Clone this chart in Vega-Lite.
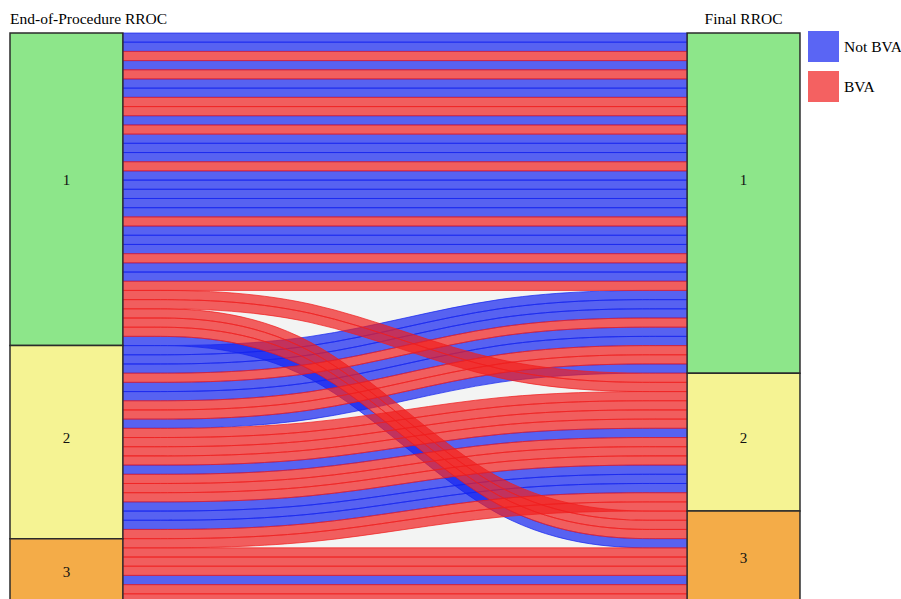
{
  "$schema": "https://vega.github.io/schema/vega-lite/v6.json",
  "width": 901,
  "height": 603,
  "padding": 0,
  "autosize": {"type": "none"},
  "background": "white",
  "config": {"view": {"stroke": null}},
  "datasets": {
    "rib": [
      {"id":0,"c":"Not BVA","x":1,"t":0,"b":1},{"id":0,"c":"Not BVA","x":6,"t":0,"b":1},
      {"id":1,"c":"Not BVA","x":1,"t":1,"b":2},{"id":1,"c":"Not BVA","x":6,"t":1,"b":2},
      {"id":3,"c":"Not BVA","x":1,"t":3,"b":4},{"id":3,"c":"Not BVA","x":6,"t":3,"b":4},
      {"id":5,"c":"Not BVA","x":1,"t":5,"b":6},{"id":5,"c":"Not BVA","x":6,"t":5,"b":6},
      {"id":6,"c":"Not BVA","x":1,"t":6,"b":7},{"id":6,"c":"Not BVA","x":6,"t":6,"b":7},
      {"id":9,"c":"Not BVA","x":1,"t":9,"b":10},{"id":9,"c":"Not BVA","x":6,"t":9,"b":10},
      {"id":11,"c":"Not BVA","x":1,"t":11,"b":12},{"id":11,"c":"Not BVA","x":6,"t":11,"b":12},
      {"id":12,"c":"Not BVA","x":1,"t":12,"b":13},{"id":12,"c":"Not BVA","x":6,"t":12,"b":13},
      {"id":13,"c":"Not BVA","x":1,"t":13,"b":14},{"id":13,"c":"Not BVA","x":6,"t":13,"b":14},
      {"id":15,"c":"Not BVA","x":1,"t":15,"b":16},{"id":15,"c":"Not BVA","x":6,"t":15,"b":16},
      {"id":16,"c":"Not BVA","x":1,"t":16,"b":17},{"id":16,"c":"Not BVA","x":6,"t":16,"b":17},
      {"id":17,"c":"Not BVA","x":1,"t":17,"b":18},{"id":17,"c":"Not BVA","x":6,"t":17,"b":18},
      {"id":18,"c":"Not BVA","x":1,"t":18,"b":19},{"id":18,"c":"Not BVA","x":6,"t":18,"b":19},
      {"id":19,"c":"Not BVA","x":1,"t":19,"b":20},{"id":19,"c":"Not BVA","x":6,"t":19,"b":20},
      {"id":21,"c":"Not BVA","x":1,"t":21,"b":22},{"id":21,"c":"Not BVA","x":6,"t":21,"b":22},
      {"id":22,"c":"Not BVA","x":1,"t":22,"b":23},{"id":22,"c":"Not BVA","x":6,"t":22,"b":23},
      {"id":23,"c":"Not BVA","x":1,"t":23,"b":24},{"id":23,"c":"Not BVA","x":6,"t":23,"b":24},
      {"id":25,"c":"Not BVA","x":1,"t":25,"b":26},{"id":25,"c":"Not BVA","x":6,"t":25,"b":26},
      {"id":26,"c":"Not BVA","x":1,"t":26,"b":27},{"id":26,"c":"Not BVA","x":6,"t":26,"b":27},
      {"id":59,"c":"Not BVA","x":1,"t":59,"b":60},{"id":59,"c":"Not BVA","x":6,"t":59,"b":60},
      {"id":33,"c":"Not BVA","x":1,"t":33,"b":34},{"id":33,"c":"Not BVA","x":2.6667,"t":33,"b":34},{"id":33,"c":"Not BVA","x":4.3333,"t":55,"b":56},{"id":33,"c":"Not BVA","x":6,"t":55,"b":56},
      {"id":34,"c":"Not BVA","x":1,"t":34,"b":35},{"id":34,"c":"Not BVA","x":2.6667,"t":34,"b":35},{"id":34,"c":"Not BVA","x":4.3333,"t":28,"b":29},{"id":34,"c":"Not BVA","x":6,"t":28,"b":29},
      {"id":35,"c":"Not BVA","x":1,"t":35,"b":36},{"id":35,"c":"Not BVA","x":2.6667,"t":35,"b":36},{"id":35,"c":"Not BVA","x":4.3333,"t":29,"b":30},{"id":35,"c":"Not BVA","x":6,"t":29,"b":30},
      {"id":36,"c":"Not BVA","x":1,"t":36,"b":37},{"id":36,"c":"Not BVA","x":2.6667,"t":36,"b":37},{"id":36,"c":"Not BVA","x":4.3333,"t":30,"b":31},{"id":36,"c":"Not BVA","x":6,"t":30,"b":31},
      {"id":38,"c":"Not BVA","x":1,"t":38,"b":39},{"id":38,"c":"Not BVA","x":2.6667,"t":38,"b":39},{"id":38,"c":"Not BVA","x":4.3333,"t":32,"b":33},{"id":38,"c":"Not BVA","x":6,"t":32,"b":33},
      {"id":39,"c":"Not BVA","x":1,"t":39,"b":40},{"id":39,"c":"Not BVA","x":2.6667,"t":39,"b":40},{"id":39,"c":"Not BVA","x":4.3333,"t":33,"b":34},{"id":39,"c":"Not BVA","x":6,"t":33,"b":34},
      {"id":42,"c":"Not BVA","x":1,"t":42,"b":43},{"id":42,"c":"Not BVA","x":2.6667,"t":42,"b":43},{"id":42,"c":"Not BVA","x":4.3333,"t":36,"b":37},{"id":42,"c":"Not BVA","x":6,"t":36,"b":37},
      {"id":47,"c":"Not BVA","x":1,"t":47,"b":48},{"id":47,"c":"Not BVA","x":2.6667,"t":47,"b":48},{"id":47,"c":"Not BVA","x":4.3333,"t":43,"b":44},{"id":47,"c":"Not BVA","x":6,"t":43,"b":44},
      {"id":51,"c":"Not BVA","x":1,"t":51,"b":52},{"id":51,"c":"Not BVA","x":2.6667,"t":51,"b":52},{"id":51,"c":"Not BVA","x":4.3333,"t":47,"b":48},{"id":51,"c":"Not BVA","x":6,"t":47,"b":48},
      {"id":52,"c":"Not BVA","x":1,"t":52,"b":53},{"id":52,"c":"Not BVA","x":2.6667,"t":52,"b":53},{"id":52,"c":"Not BVA","x":4.3333,"t":48,"b":49},{"id":52,"c":"Not BVA","x":6,"t":48,"b":49},
      {"id":53,"c":"Not BVA","x":1,"t":53,"b":54},{"id":53,"c":"Not BVA","x":2.6667,"t":53,"b":54},{"id":53,"c":"Not BVA","x":4.3333,"t":49,"b":50},{"id":53,"c":"Not BVA","x":6,"t":49,"b":50},
      {"id":2,"c":"BVA","x":1,"t":2,"b":3},{"id":2,"c":"BVA","x":6,"t":2,"b":3},
      {"id":4,"c":"BVA","x":1,"t":4,"b":5},{"id":4,"c":"BVA","x":6,"t":4,"b":5},
      {"id":7,"c":"BVA","x":1,"t":7,"b":8},{"id":7,"c":"BVA","x":6,"t":7,"b":8},
      {"id":8,"c":"BVA","x":1,"t":8,"b":9},{"id":8,"c":"BVA","x":6,"t":8,"b":9},
      {"id":10,"c":"BVA","x":1,"t":10,"b":11},{"id":10,"c":"BVA","x":6,"t":10,"b":11},
      {"id":14,"c":"BVA","x":1,"t":14,"b":15},{"id":14,"c":"BVA","x":6,"t":14,"b":15},
      {"id":20,"c":"BVA","x":1,"t":20,"b":21},{"id":20,"c":"BVA","x":6,"t":20,"b":21},
      {"id":24,"c":"BVA","x":1,"t":24,"b":25},{"id":24,"c":"BVA","x":6,"t":24,"b":25},
      {"id":27,"c":"BVA","x":1,"t":27,"b":28},{"id":27,"c":"BVA","x":6,"t":27,"b":28},
      {"id":56,"c":"BVA","x":1,"t":56,"b":57},{"id":56,"c":"BVA","x":6,"t":56,"b":57},
      {"id":57,"c":"BVA","x":1,"t":57,"b":58},{"id":57,"c":"BVA","x":6,"t":57,"b":58},
      {"id":58,"c":"BVA","x":1,"t":58,"b":59},{"id":58,"c":"BVA","x":6,"t":58,"b":59},
      {"id":60,"c":"BVA","x":1,"t":60,"b":61},{"id":60,"c":"BVA","x":6,"t":60,"b":61},
      {"id":61,"c":"BVA","x":1,"t":61,"b":62},{"id":61,"c":"BVA","x":6,"t":61,"b":62},
      {"id":28,"c":"BVA","x":1,"t":28,"b":29},{"id":28,"c":"BVA","x":2.6667,"t":28,"b":29},{"id":28,"c":"BVA","x":4.3333,"t":37,"b":38},{"id":28,"c":"BVA","x":6,"t":37,"b":38},
      {"id":29,"c":"BVA","x":1,"t":29,"b":30},{"id":29,"c":"BVA","x":2.6667,"t":29,"b":30},{"id":29,"c":"BVA","x":4.3333,"t":38,"b":39},{"id":29,"c":"BVA","x":6,"t":38,"b":39},
      {"id":30,"c":"BVA","x":1,"t":30,"b":31},{"id":30,"c":"BVA","x":2.6667,"t":30,"b":31},{"id":30,"c":"BVA","x":4.3333,"t":52,"b":53},{"id":30,"c":"BVA","x":6,"t":52,"b":53},
      {"id":31,"c":"BVA","x":1,"t":31,"b":32},{"id":31,"c":"BVA","x":2.6667,"t":31,"b":32},{"id":31,"c":"BVA","x":4.3333,"t":53,"b":54},{"id":31,"c":"BVA","x":6,"t":53,"b":54},
      {"id":32,"c":"BVA","x":1,"t":32,"b":33},{"id":32,"c":"BVA","x":2.6667,"t":32,"b":33},{"id":32,"c":"BVA","x":4.3333,"t":54,"b":55},{"id":32,"c":"BVA","x":6,"t":54,"b":55},
      {"id":37,"c":"BVA","x":1,"t":37,"b":38},{"id":37,"c":"BVA","x":2.6667,"t":37,"b":38},{"id":37,"c":"BVA","x":4.3333,"t":31,"b":32},{"id":37,"c":"BVA","x":6,"t":31,"b":32},
      {"id":40,"c":"BVA","x":1,"t":40,"b":41},{"id":40,"c":"BVA","x":2.6667,"t":40,"b":41},{"id":40,"c":"BVA","x":4.3333,"t":34,"b":35},{"id":40,"c":"BVA","x":6,"t":34,"b":35},
      {"id":41,"c":"BVA","x":1,"t":41,"b":42},{"id":41,"c":"BVA","x":2.6667,"t":41,"b":42},{"id":41,"c":"BVA","x":4.3333,"t":35,"b":36},{"id":41,"c":"BVA","x":6,"t":35,"b":36},
      {"id":43,"c":"BVA","x":1,"t":43,"b":44},{"id":43,"c":"BVA","x":2.6667,"t":43,"b":44},{"id":43,"c":"BVA","x":4.3333,"t":39,"b":40},{"id":43,"c":"BVA","x":6,"t":39,"b":40},
      {"id":44,"c":"BVA","x":1,"t":44,"b":45},{"id":44,"c":"BVA","x":2.6667,"t":44,"b":45},{"id":44,"c":"BVA","x":4.3333,"t":40,"b":41},{"id":44,"c":"BVA","x":6,"t":40,"b":41},
      {"id":45,"c":"BVA","x":1,"t":45,"b":46},{"id":45,"c":"BVA","x":2.6667,"t":45,"b":46},{"id":45,"c":"BVA","x":4.3333,"t":41,"b":42},{"id":45,"c":"BVA","x":6,"t":41,"b":42},
      {"id":46,"c":"BVA","x":1,"t":46,"b":47},{"id":46,"c":"BVA","x":2.6667,"t":46,"b":47},{"id":46,"c":"BVA","x":4.3333,"t":42,"b":43},{"id":46,"c":"BVA","x":6,"t":42,"b":43},
      {"id":48,"c":"BVA","x":1,"t":48,"b":49},{"id":48,"c":"BVA","x":2.6667,"t":48,"b":49},{"id":48,"c":"BVA","x":4.3333,"t":44,"b":45},{"id":48,"c":"BVA","x":6,"t":44,"b":45},
      {"id":49,"c":"BVA","x":1,"t":49,"b":50},{"id":49,"c":"BVA","x":2.6667,"t":49,"b":50},{"id":49,"c":"BVA","x":4.3333,"t":45,"b":46},{"id":49,"c":"BVA","x":6,"t":45,"b":46},
      {"id":50,"c":"BVA","x":1,"t":50,"b":51},{"id":50,"c":"BVA","x":2.6667,"t":50,"b":51},{"id":50,"c":"BVA","x":4.3333,"t":46,"b":47},{"id":50,"c":"BVA","x":6,"t":46,"b":47},
      {"id":54,"c":"BVA","x":1,"t":54,"b":55},{"id":54,"c":"BVA","x":2.6667,"t":54,"b":55},{"id":54,"c":"BVA","x":4.3333,"t":50,"b":51},{"id":54,"c":"BVA","x":6,"t":50,"b":51},
      {"id":55,"c":"BVA","x":1,"t":55,"b":56},{"id":55,"c":"BVA","x":2.6667,"t":55,"b":56},{"id":55,"c":"BVA","x":4.3333,"t":51,"b":52},{"id":55,"c":"BVA","x":6,"t":51,"b":52}
    ],
    "boxes": [
      {"s":"L","k":"1","x0":0,"x1":1,"y0":0,"y1":34,"lx":0.5,"ly":16},
      {"s":"L","k":"2","x0":0,"x1":1,"y0":34,"y1":55,"lx":0.5,"ly":44.1},
      {"s":"L","k":"3","x0":0,"x1":1,"y0":55,"y1":62,"lx":0.5,"ly":58.6},
      {"s":"R","k":"1","x0":6,"x1":7,"y0":0,"y1":37,"lx":6.5,"ly":16},
      {"s":"R","k":"2","x0":6,"x1":7,"y0":37,"y1":52,"lx":6.5,"ly":44.1},
      {"s":"R","k":"3","x0":6,"x1":7,"y0":52,"y1":62,"lx":6.5,"ly":57.1}
    ]
  },
  "layer": [
    {
      "data": {"values": [{"x0": 1, "x1": 6, "y0": 0, "y1": 62}]},
      "mark": {"type": "rect", "fill": "#f3f4f3"},
      "encoding": {
        "x": {"field": "x0", "type": "quantitative", "scale": {"domain": [-0.0886, 7.8951], "nice": false, "zero": false}, "axis": null},
        "x2": {"field": "x1"},
        "y": {"field": "y0", "type": "quantitative", "scale": {"domain": [-3.59, 62], "nice": false, "zero": false, "reverse": true}, "axis": null},
        "y2": {"field": "y1"}
      }
    },
    {
      "data": {"name": "rib"},
      "mark": {"type": "area", "interpolate": "basis", "fillOpacity": 0.7, "strokeOpacity": 0.7, "strokeWidth": 1},
      "encoding": {
        "x": {"field": "x", "type": "quantitative", "scale": {"domain": [-0.0886, 7.8951], "nice": false, "zero": false}, "axis": null},
        "y": {"field": "t", "type": "quantitative", "stack": null, "scale": {"domain": [-3.59, 62], "nice": false, "zero": false, "reverse": true}, "axis": null},
        "y2": {"field": "b"},
        "detail": {"field": "id", "type": "nominal"},
        "color": {
          "field": "c", "type": "nominal",
          "scale": {"domain": ["Not BVA", "BVA"], "range": ["#1424F0", "#F01E1E"]},
          "legend": {"title": null, "orient": "none", "legendX": 808, "legendY": 31, "symbolType": "square", "symbolSize": 961, "symbolOpacity": 0.7, "symbolStrokeWidth": 0, "labelFont": "Liberation Serif", "labelFontSize": 15.5, "labelColor": "#000000", "labelOffset": 5, "rowPadding": 9, "labelLimit": 300, "padding": 0}
        },
        "stroke": {
          "field": "c", "type": "nominal",
          "scale": {"domain": ["Not BVA", "BVA"], "range": ["#1424F0", "#F01E1E"]},
          "legend": null
        }
      }
    },
    {
      "data": {"name": "boxes"},
      "mark": {"type": "rect", "stroke": "#2b2b2b", "strokeWidth": 1.5},
      "encoding": {
        "x": {"field": "x0", "type": "quantitative", "scale": {"domain": [-0.0886, 7.8951], "nice": false, "zero": false}, "axis": null},
        "x2": {"field": "x1"},
        "y": {"field": "y0", "type": "quantitative", "scale": {"domain": [-3.59, 62], "nice": false, "zero": false, "reverse": true}, "axis": null},
        "y2": {"field": "y1"},
        "fill": {"field": "k", "type": "nominal", "scale": {"domain": ["1", "2", "3"], "range": ["#8DE68A", "#F5F393", "#F4AC48"]}, "legend": null}
      }
    },
    {
      "data": {"name": "boxes"},
      "mark": {"type": "text", "font": "Liberation Serif", "fontSize": 15, "color": "#111111", "align": "center", "baseline": "middle"},
      "encoding": {
        "x": {"field": "lx", "type": "quantitative", "scale": {"domain": [-0.0886, 7.8951], "nice": false, "zero": false}, "axis": null},
        "y": {"field": "ly", "type": "quantitative", "scale": {"domain": [-3.59, 62], "nice": false, "zero": false, "reverse": true}, "axis": null},
        "text": {"field": "k"}
      }
    },
    {
      "data": {"values": [{"t": "End-of-Procedure RROC", "x": 0, "y": -0.93}]},
      "mark": {"type": "text", "font": "Liberation Serif", "fontSize": 15.5, "color": "#000000", "align": "left", "baseline": "alphabetic"},
      "encoding": {
        "x": {"field": "x", "type": "quantitative", "scale": {"domain": [-0.0886, 7.8951], "nice": false, "zero": false}, "axis": null},
        "y": {"field": "y", "type": "quantitative", "scale": {"domain": [-3.59, 62], "nice": false, "zero": false, "reverse": true}, "axis": null},
        "text": {"field": "t"}
      }
    },
    {
      "data": {"values": [{"t": "Final RROC", "x": 6.5, "y": -0.93}]},
      "mark": {"type": "text", "font": "Liberation Serif", "fontSize": 15.5, "color": "#000000", "align": "center", "baseline": "alphabetic"},
      "encoding": {
        "x": {"field": "x", "type": "quantitative", "scale": {"domain": [-0.0886, 7.8951], "nice": false, "zero": false}, "axis": null},
        "y": {"field": "y", "type": "quantitative", "scale": {"domain": [-3.59, 62], "nice": false, "zero": false, "reverse": true}, "axis": null},
        "text": {"field": "t"}
      }
    }
  ]
}
